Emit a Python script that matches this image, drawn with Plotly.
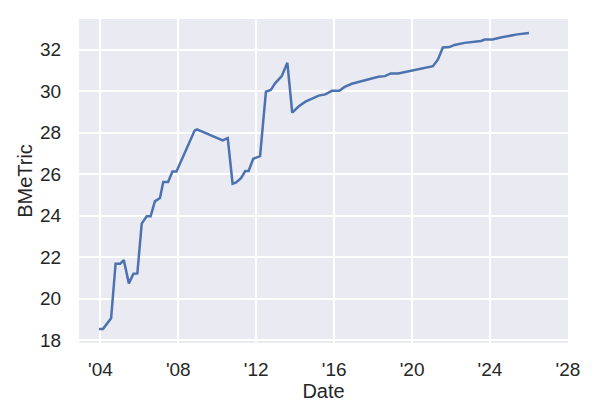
import plotly.graph_objects as go

dates = [
    "2003-12-05", "2004-02-20", "2004-07-20", "2004-10-12", "2005-01-08",
    "2005-03-15", "2005-06-18", "2005-09-12", "2005-11-24", "2006-02-14",
    "2006-05-19", "2006-07-31", "2006-10-19", "2007-01-22", "2007-03-25",
    "2007-06-24", "2007-09-13", "2007-11-28", "2008-11-02", "2008-12-16",
    "2010-04-12", "2010-07-16", "2010-10-15", "2010-12-20", "2011-03-22",
    "2011-06-10", "2011-08-11", "2011-11-06", "2012-03-13", "2012-07-01",
    "2012-10-01", "2012-12-20", "2013-04-23", "2013-08-07", "2013-11-06",
    "2014-03-10", "2014-07-12", "2014-11-14", "2015-03-18", "2015-07-19",
    "2015-11-20", "2016-04-08", "2016-07-16", "2016-11-28", "2017-04-02",
    "2017-10-05", "2018-04-08", "2018-08-10", "2018-11-28", "2019-04-16",
    "2019-10-20", "2020-04-23", "2021-01-26", "2021-05-01", "2021-07-31",
    "2021-12-02", "2022-03-07", "2022-09-09", "2023-03-14", "2023-07-16",
    "2023-09-27", "2024-02-17", "2024-07-19", "2024-11-24", "2025-05-30",
    "2026-01-01",
]
bmetric = [
    18.55, 18.55, 19.06, 21.69, 21.69,
    21.86, 20.74, 21.21, 21.22, 23.62,
    23.97, 23.97, 24.69, 24.85, 25.62,
    25.62, 26.13, 26.13, 28.10, 28.16,
    27.62, 27.73, 25.54, 25.60, 25.81,
    26.15, 26.15, 26.74, 26.87, 29.97,
    30.05, 30.37, 30.72, 31.36, 28.96,
    29.27, 29.49, 29.62, 29.78, 29.84,
    30.01, 30.01, 30.20, 30.35, 30.43,
    30.58, 30.69, 30.72, 30.85, 30.85,
    30.94, 31.04, 31.20, 31.52, 32.10,
    32.12, 32.22, 32.32, 32.38, 32.41,
    32.48, 32.48, 32.58, 32.65, 32.73,
    32.80,
]
y_ticks = [18, 20, 22, 24, 26, 28, 30, 32]

fig = go.Figure()
fig.add_trace(go.Scatter(
    x=dates, y=bmetric, mode="lines",
    line=dict(color="#4C72B0", width=2.5),
    showlegend=False,
))

font_family = "Liberation Sans, Arial, sans-serif"
fig.update_layout(
    width=600, height=420,
    margin=dict(l=71, r=40, t=11, b=85),
    paper_bgcolor="white",
    plot_bgcolor="#EAEAF2",
    font=dict(family=font_family, size=19, color="#262626"),
    xaxis=dict(
        type="date",
        range=["2002-11-26", "2028-01-03"],
        tick0="2004-01-01", dtick="M48", tickformat="'%y",
        showgrid=True, gridcolor="white", gridwidth=1.6,
        zeroline=False, showline=False, automargin=False,
        ticks="outside", ticklen=9, tickcolor="rgba(0,0,0,0)",
        tickfont=dict(size=19),
        title=dict(text="Date", font=dict(size=20), standoff=3),
    ),
    yaxis=dict(
        range=[17.87, 33.47],
        tickvals=y_ticks,
        showgrid=True, gridcolor="white", gridwidth=1.6,
        zeroline=False, showline=False, automargin=False,
        ticks="outside", ticklen=13, tickcolor="rgba(0,0,0,0)",
        tickfont=dict(size=19),
        title=dict(text="BMeTric", font=dict(size=20), standoff=2),
    ),
)

fig.write_html("out.html")
